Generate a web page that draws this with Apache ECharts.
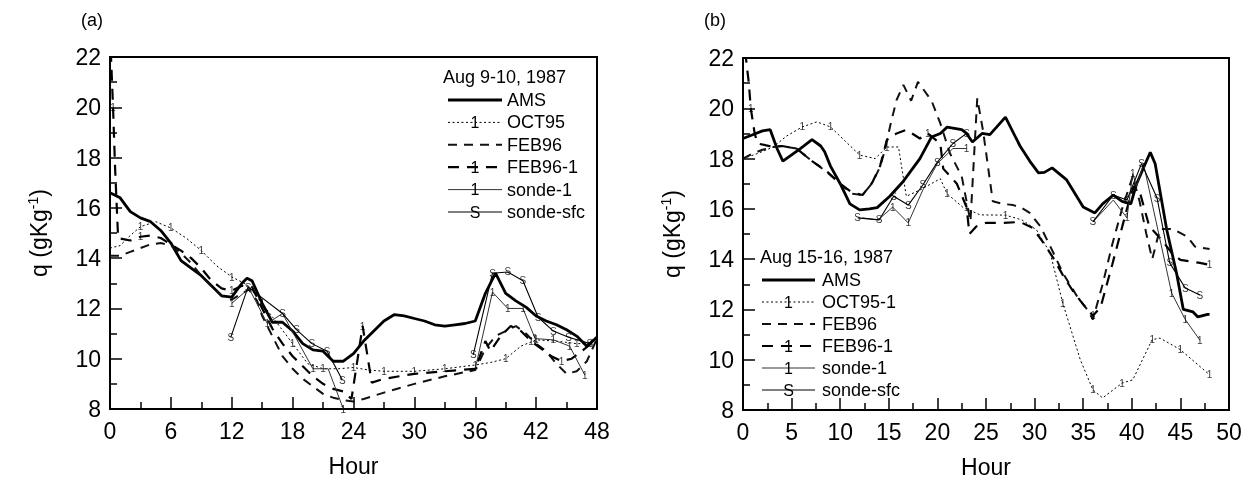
<!DOCTYPE html>
<html><head><meta charset="utf-8">
<script src="https://cdn.jsdelivr.net/npm/echarts@6/dist/echarts.min.js"></script>
<style>html,body{margin:0;padding:0;background:#fff}#c{width:1255px;height:485px;will-change:transform}</style>
</head><body><div id="c"></div>
<script>
// ---------------- DATA (hour, q in g/kg) ----------------
const panelTitles = ['(a)', '(b)'];
const legendTitles = ['Aug 9-10, 1987', 'Aug 15-16, 1987'];
const legendNamesA = ['AMS', 'OCT95', 'FEB96', 'FEB96-1', 'sonde-1', 'sonde-sfc'];
const legendNamesB = ['AMS', 'OCT95-1', 'FEB96', 'FEB96-1', 'sonde-1', 'sonde-sfc'];

// Panel (a)
const amsA = [[0,16.6],[1,16.4],[2,15.85],[3,15.6],[4,15.45],[5,15.1],[6,14.6],[7,13.9],[8,13.6],[9,13.3],[10,12.9],[11,12.5],[12,12.45],[13,13.0],[13.5,13.2],[14,13.1],[15,12.2],[16,11.45],[17,11.45],[18,11.1],[19,10.6],[20,10.35],[21,10.3],[22,9.9],[23,9.9],[24,10.2],[25,10.7],[26,11.1],[27,11.5],[28,11.75],[29,11.7],[30,11.6],[31,11.5],[32,11.35],[33,11.3],[34,11.35],[35,11.4],[36,11.5],[37,12.6],[38,13.4],[39,12.6],[40,12.3],[41,12.05],[42,11.7],[43,11.5],[44,11.35],[45,11.15],[46,10.9],[47,10.5],[48,10.85]];
const oct95A = [[0,14.4],[1,14.5],[2,14.9],[3,15.25],[4.5,15.45],[6,15.2],[7.5,14.8],[9,14.3],[10.5,13.7],[12,13.25],[13.5,12.95],[15,12.2],[16.5,11.4],[18,10.6],[19.5,9.8],[21,9.6],[22.5,9.6],[24,9.65],[25.5,9.55],[27,9.5],[30,9.5],[33,9.6],[36,9.75],[37.5,9.85],[39,10.0],[40.5,10.5],[42,10.75],[44,10.7],[45,10.65],[46,10.6],[47,10.6],[48,10.9]];
const oct95AMarks = [3,6,9,12,15,18,21,24,27,30,33,36,39,42,46];
const feb96A = [[0,14.1],[1,14.1],[2,14.25],[3,14.4],[4,14.55],[5,14.6],[6,14.5],[7,14.2],[8,13.8],[9,13.3],[10,12.9],[11,12.5],[12,12.35],[13,12.6],[13.7,12.75],[14.5,12.3],[15,11.7],[16,10.9],[17,10.1],[18,9.6],[19,9.2],[20,8.9],[21,8.6],[22,8.45],[23,8.35],[24,8.3],[25,8.4],[27,8.65],[30,9.0],[33,9.3],[36,9.55],[37,10.4],[38,10.9],[39,11.1],[40,11.3],[41,11.0],[42,10.6],[43,10.3],[44,9.8],[45,9.4],[46,9.5],[47,9.9],[48,10.8]];
const feb96_1A = [[0,23],[0.3,20],[0.5,17.6],[0.8,14.8],[2,14.7],[3,14.85],[4,14.9],[5,14.8],[6,14.55],[7,14.3],[8,14.0],[9,13.6],[10,13.1],[11,12.8],[12,12.7],[13,12.9],[14,12.85],[15,12.0],[16,11.2],[17,10.6],[18,10.1],[19,9.7],[20,9.3],[21,9.0],[22,8.8],[23,8.7],[23.8,8.4],[24.9,11.3],[25.8,9.05],[27,9.2],[30,9.4],[33,9.5],[36,9.6],[37,10.7],[37.5,10.3],[38.5,10.9],[39.5,11.3],[40.5,11.1],[41.5,10.7],[42.5,10.4],[43.5,10.1],[44.5,9.9],[45.5,10.0],[46.5,10.3],[48,10.8]];
const feb96_1AMarks = [0.3,3,12,24.9,41.5,44.5];
const sonde1A = [[12,12.2],[13.7,12.8],[15.5,11.4],[17,11.8],[20,9.6],[21.5,9.6],[23,8.0],[30,null],[36,9.6],[37.7,12.65],[39.2,12.0],[40.7,12.0],[41.9,10.8],[43.7,10.75],[45.3,10.5],[46.8,9.35]];
const sonde1AMarks = [12,15.5,20,23,37.7,39.2,40.7,41.9,43.7,45.3,46.8];
const sondeSfcA = [[11.9,10.85],[13.6,12.85],[17,11.8],[18.4,11.15],[19.9,10.6],[21.4,10.3],[22.9,9.15],[30,null],[35.8,10.15],[37.7,13.4],[39.2,13.45],[40.7,13.1],[42.2,11.65],[43.7,11.1],[45.2,10.85],[47.3,10.6]];

// Panel (b)
const amsB = [[0,18.8],[1,18.95],[2,19.1],[2.8,19.15],[3.5,18.4],[4.1,17.9],[5,18.15],[5.9,18.4],[7.1,18.75],[8,18.5],[8.4,18.27],[9,17.7],[10,17.0],[11,16.2],[12,15.96],[13,16.0],[13.8,16.05],[15.1,16.5],[16.5,17.1],[18.2,18.0],[19.4,18.86],[20.3,19.0],[21,19.25],[22.5,19.15],[23,19.0],[23.6,18.66],[24.6,19.0],[25.4,18.95],[27,19.65],[28.5,18.5],[29.5,17.9],[30.4,17.43],[31,17.45],[31.8,17.63],[33.3,17.15],[35,16.07],[36.2,15.84],[37,16.2],[38.1,16.55],[39,16.3],[39.9,16.2],[40.5,17.0],[41.9,18.25],[42.4,17.8],[43.6,15.16],[44.6,13.45],[45.3,12.0],[46.3,11.9],[46.8,11.7],[47.8,11.8],[48,11.8]];
const oct95B = [[0,18.0],[1.5,18.2],[3.1,18.46],[4.5,18.9],[6.1,19.26],[7.6,19.46],[9,19.26],[10.5,18.7],[12,18.14],[13.6,18.0],[14.8,18.46],[16,18.46],[16.8,16.5],[18.2,16.75],[20.3,17.2],[21,16.6],[22.6,16.07],[24.4,15.76],[27,15.75],[28.7,15.56],[30.2,15.16],[31.6,14.25],[32.9,12.25],[34.7,10.0],[36,8.8],[37,8.48],[39,9.07],[40.1,9.2],[42.1,10.8],[42.9,10.86],[45,10.4],[48,9.4]];
const oct95BMarks = [6.1,9,12,14.8,21,27,32.9,36,39,42.1,45,48];
const feb96B = [[0,18.0],[1,18.2],[2,18.35],[3.1,18.46],[4,18.5],[5.5,18.4],[7.1,17.9],[8.6,17.47],[10,17.0],[11.2,16.6],[12.3,16.55],[13.3,17.03],[14.1,17.67],[14.6,18.34],[15.2,19.4],[15.8,20.33],[16.5,20.93],[17.3,20.3],[18,21.05],[19.4,20.3],[20.3,19.4],[21.3,18.2],[22.5,17.3],[23.4,15.5],[24.1,20.4],[24.7,19.1],[25.7,16.3],[26.7,16.2],[27.8,16.15],[28.7,16.03],[29.5,15.84],[30.6,15.3],[31.8,14.36],[32.9,13.45],[34.4,12.5],[35.4,12.0],[36,11.6],[37,13.0],[38,14.6],[39,16.0],[40.1,17.3],[40.8,16.3],[41.5,15.0],[42.1,14.0],[42.9,15.2],[44.2,15.2],[45.7,14.9],[46.5,14.5],[48,14.4]];
const feb96_1B = [[0,23],[0.3,22],[0.6,21],[0.8,20],[1.2,19],[1.5,18.6],[3.1,18.46],[4,18.5],[5.5,18.4],[7.1,17.9],[8.6,17.5],[10,17.0],[11.2,16.65],[12.3,16.55],[13.3,17.05],[14.1,17.7],[14.8,18.74],[15.8,19.0],[16.8,19.14],[18.2,18.8],[19,19.0],[20.3,18.6],[20.6,17.6],[22,17.0],[23,16.07],[23.3,15.0],[24,15.3],[25,15.44],[26.7,15.44],[28.5,15.48],[29.8,15.24],[31,14.6],[32,14.0],[33,13.3],[34,12.7],[35,12.2],[36,11.75],[36.8,12.1],[38,13.8],[39.5,16.0],[40.2,16.9],[40.8,16.7],[41.8,15.3],[43,14.8],[44.1,14.25],[45,13.97],[47,13.85],[48,13.77]];
const feb96_1BMarks = [0.8,19,23,36,48];
const sonde1B = [[12.3,15.64],[13.9,15.56],[15.4,16.07],[17,15.44],[18.5,16.75],[20,17.8],[21.6,18.4],[23,18.4],[30,null],[36,15.48],[38.1,16.35],[39.5,15.64],[40.1,17.4],[40.5,16.9],[41.2,17.8],[44.1,12.65],[45.5,11.6],[47,10.78]];
const sonde1BMarks = [15.4,17,23,39.5,40.1,44.1,45.5,47];
const sondeSfcB = [[11.8,15.64],[14,15.56],[15.5,16.5],[17,16.15],[18.5,16.95],[20,17.86],[21.6,18.6],[23,19.0],[30,null],[36,15.48],[38.1,16.55],[39.5,16.35],[41,17.8],[42.6,16.43],[43.9,13.85],[45.5,12.85],[47,12.57]];

// ---------------- STYLES ----------------
const FONT = "'Liberation Sans', Arial, sans-serif";
const ST = {
  ams:  {color:'#000', width:2.8, dash:'solid'},
  oct:  {color:'#000', width:1, dash:[2,2.5], mark:'1'},
  feb:  {color:'#111', width:2, dash:[9,7]},
  feb1: {color:'#000', width:2.2, dash:[11,8], mark:'1'},
  s1:   {color:'#333', width:1, dash:'solid', mark:'1'},
  sfc:  {color:'#000', width:1.1, dash:'solid', mark:'S'}
};
const KEYS = ['ams','oct','feb','feb1','s1','sfc'];

function pick(data, hours) {
  return data.filter(p => p[1] != null && (!hours || hours.some(h => Math.abs(h - p[0]) < 1e-6)));
}
function lineSeries(name, data, gi, st) {
  return {type:'line', name, xAxisIndex:gi, yAxisIndex:gi, data, symbol:'none', showSymbol:false,
    clip:true, silent:true, connectNulls:false, color:st.color,
    lineStyle:{color:st.color, width:st.width, type:st.dash}, z:2};
}
function markSeries(data, gi, ch) {
  return {type:'scatter', xAxisIndex:gi, yAxisIndex:gi, data, symbol:'circle', symbolSize:1, silent:true,
    color:'#000', itemStyle:{color:'rgba(255,255,255,0)'},
    label:{show:true, position:'inside', formatter:ch, fontSize:10, color:'#000',
      textBorderWidth:0, fontFamily:FONT}, z:5};
}

const series = [
  lineSeries('AMS', amsA, 0, ST.ams),
  lineSeries('OCT95', oct95A, 0, ST.oct), markSeries(pick(oct95A, oct95AMarks), 0, '1'),
  lineSeries('FEB96', feb96A, 0, ST.feb),
  lineSeries('FEB96-1', feb96_1A, 0, ST.feb1), markSeries(pick(feb96_1A, feb96_1AMarks), 0, '1'),
  lineSeries('sonde-1', sonde1A, 0, ST.s1), markSeries(pick(sonde1A, sonde1AMarks), 0, '1'),
  lineSeries('sonde-sfc', sondeSfcA, 0, ST.sfc), markSeries(pick(sondeSfcA), 0, 'S'),

  lineSeries('AMS', amsB, 1, ST.ams),
  lineSeries('OCT95-1', oct95B, 1, ST.oct), markSeries(pick(oct95B, oct95BMarks), 1, '1'),
  lineSeries('FEB96', feb96B, 1, ST.feb),
  lineSeries('FEB96-1', feb96_1B, 1, ST.feb1), markSeries(pick(feb96_1B, feb96_1BMarks), 1, '1'),
  lineSeries('sonde-1', sonde1B, 1, ST.s1), markSeries(pick(sonde1B, sonde1BMarks), 1, '1'),
  lineSeries('sonde-sfc', sondeSfcB, 1, ST.sfc), markSeries(pick(sondeSfcB), 1, 'S')
];

// ---------------- AXES ----------------
function xAxis(gi, max, interval) {
  return {gridIndex:gi, type:'value', min:0, max, interval,
    axisLine:{show:true, onZero:false, lineStyle:{color:'#000', width:2}},
    axisTick:{show:true, inside:true, length:12, lineStyle:{color:'#000', width:1.5}},
    minorTick:{show:true, splitNumber:2, length:7, lineStyle:{color:'#000', width:1.5}},
    splitLine:{show:false}, minorSplitLine:{show:false},
    axisLabel:{fontSize:23, color:'#000', margin:10, fontFamily:FONT},
    name:'Hour', nameLocation:'middle', nameGap:45,
    nameTextStyle:{fontSize:23, color:'#000', fontFamily:FONT}};
}
function yAxis(gi) {
  return {gridIndex:gi, type:'value', min:8, max:22, interval:2,
    axisLine:{show:true, onZero:false, lineStyle:{color:'#000', width:2}},
    axisTick:{show:true, inside:true, length:12, lineStyle:{color:'#000', width:1.5}},
    minorTick:{show:true, splitNumber:2, length:7, lineStyle:{color:'#000', width:1.5}},
    splitLine:{show:false}, minorSplitLine:{show:false},
    axisLabel:{fontSize:23, color:'#000', margin:9, fontFamily:FONT},
    name:'q (gKg{sup|-1})', nameLocation:'middle', nameGap:58, nameRotate:90,
    nameTextStyle:{fontSize:23, color:'#000', fontFamily:FONT,
      rich:{sup:{fontSize:14, color:'#000', fontFamily:FONT, verticalAlign:'top', padding:[0,0,12,0]}}}};
}

// ---------------- LEGEND (drawn as graphics) ----------------
function legendGraphics(title, names, tx, ty, lx1, lx2, textX, y0, step) {
  const els = [{type:'text', x:tx, y:ty, silent:true,
    style:{text:title, fontSize:18, fontFamily:FONT, fill:'#000', verticalAlign:'middle', align:'left'}}];
  names.forEach((n, i) => {
    const st = ST[KEYS[i]];
    const y = y0 + i * step;
    els.push({type:'line', silent:true, shape:{x1:lx1, y1:y, x2:lx2, y2:y},
      style:{stroke:st.color, lineWidth:st.width, lineDash:Array.isArray(st.dash) ? st.dash : null}});
    if (st.mark) {
      els.push({type:'text', x:(lx1 + lx2) / 2, y:y, silent:true,
        style:{text:st.mark, fontSize:16, fontFamily:FONT, fill:'#000', verticalAlign:'middle', align:'center'}});
    }
    els.push({type:'text', x:textX, y:y, silent:true,
      style:{text:n, fontSize:18, fontFamily:FONT, fill:'#000', verticalAlign:'middle', align:'left'}});
  });
  return els;
}

const option = {
  animation:false,
  backgroundColor:'#fff',
  color:['#000'],
  textStyle:{fontFamily:FONT},
  title:[
    {text:panelTitles[0], left:76, top:6, textStyle:{fontSize:18, fontWeight:'normal', color:'#000', fontFamily:FONT}},
    {text:panelTitles[1], left:699, top:6, textStyle:{fontSize:18, fontWeight:'normal', color:'#000', fontFamily:FONT}}
  ],
  grid:[
    {left:110, top:57, width:487, height:352, show:true, borderColor:'#000', borderWidth:2, backgroundColor:'transparent'},
    {left:743, top:58, width:486, height:352, show:true, borderColor:'#000', borderWidth:2, backgroundColor:'transparent'}
  ],
  xAxis:[xAxis(0, 48, 6), xAxis(1, 50, 5)],
  yAxis:[yAxis(0), yAxis(1)],
  series,
  graphic:[].concat(
    legendGraphics(legendTitles[0], legendNamesA, 443, 77, 448, 502, 507, 100, 22.4),
    legendGraphics(legendTitles[1], legendNamesB, 760, 257, 762, 815, 822, 280, 22)
  )
};

const chart = echarts.init(document.getElementById('c'), null, {renderer:'svg'});
chart.setOption(option);
</script>
</body></html>
